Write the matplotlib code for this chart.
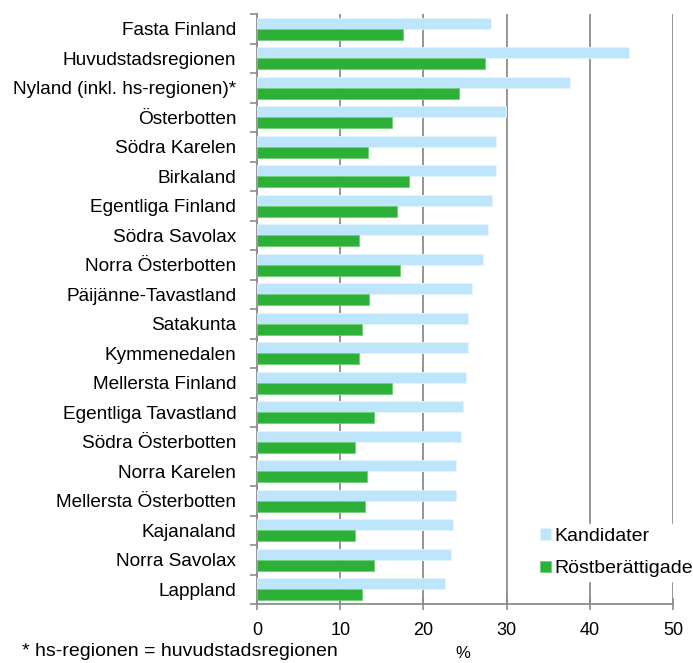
import matplotlib.pyplot as plt
import numpy as np

plt.rcParams['font.family'] = ['Liberation Sans', 'DejaVu Sans']

regions = ['Fasta Finland', 'Huvudstadsregionen', 'Nyland (inkl. hs-regionen)*',
           'Österbotten', 'Södra Karelen', 'Birkaland', 'Egentliga Finland',
           'Södra Savolax', 'Norra Österbotten', 'Päijänne-Tavastland', 'Satakunta',
           'Kymmenedalen', 'Mellersta Finland', 'Egentliga Tavastland',
           'Södra Österbotten', 'Norra Karelen', 'Mellersta Österbotten',
           'Kajanaland', 'Norra Savolax', 'Lappland']
kandidater = [28.1, 44.7, 37.6, 29.9, 28.7, 28.7, 28.3, 27.8, 27.2, 25.8, 25.4,
              25.4, 25.1, 24.7, 24.5, 23.9, 23.9, 23.5, 23.3, 22.6]
rostberattigade = [17.6, 27.4, 24.3, 16.2, 13.4, 18.3, 16.8, 12.2, 17.2, 13.5, 12.6,
                   12.2, 16.2, 14.1, 11.8, 13.2, 13.0, 11.8, 14.1, 12.6]
xticks = [0, 10, 20, 30, 40, 50]

blue = '#bde5fb'
green = '#2db038'
grey = '#8c8c8c'

fig = plt.figure(figsize=(6.93, 6.63), dpi=100)
ax = fig.add_axes([257 / 693, 1 - 604 / 663, 416 / 693, 590 / 663])

n = len(regions)
y = np.arange(n)
h = 0.375
ax.barh(y - h / 2, kandidater, height=h, color=blue, edgecolor='#e3f4fd',
        linewidth=0.6, zorder=3, label='Kandidater')
ax.barh(y + h / 2, rostberattigade, height=h, color=green, edgecolor='#6fcf77',
        linewidth=0.6, zorder=3, label='Röstberättigade')

ax.set_xlim(0, 50)
ax.set_ylim(n - 0.5, -0.5)
ax.set_xticks(xticks)
ax.set_xticklabels([str(t) for t in xticks], fontsize=13)
ax.set_yticks(y)
ax.set_yticklabels(regions, fontsize=13.7)
ax.tick_params(axis='y', which='major', length=0, pad=15)
ax.set_yticks(np.arange(-0.5, n, 1), minor=True)
ax.tick_params(axis='y', which='minor', length=5, color=grey, width=1.2, direction='out')
ax.tick_params(axis='x', length=8, direction='inout', color=grey, width=1.2, pad=9)

ax.grid(axis='x', color=grey, linewidth=1.3, zorder=0)
for s in ['top', 'right']:
    ax.spines[s].set_visible(False)
for s in ['left', 'bottom']:
    ax.spines[s].set_color(grey)
    ax.spines[s].set_linewidth(1.3)

leg = fig.legend(loc='upper left', bbox_to_anchor=(536 / 693, 1 - 524 / 663),
                 frameon=True, fontsize=14, handlelength=0.55, handleheight=0.55,
                 handletextpad=0.2, labelspacing=0.8, borderpad=0.2, borderaxespad=0)
leg.get_frame().set_edgecolor('white')
leg.get_frame().set_facecolor('white')
leg.get_frame().set_alpha(1)

fig.text(22 / 693, 1 - 651 / 663, '* hs-regionen = huvudstadsregionen',
         fontsize=14, va='center', ha='left')
fig.text(463 / 693, 1 - 653 / 663, '%', fontsize=12, va='center', ha='center')

fig.savefig('out.png', dpi=100)
